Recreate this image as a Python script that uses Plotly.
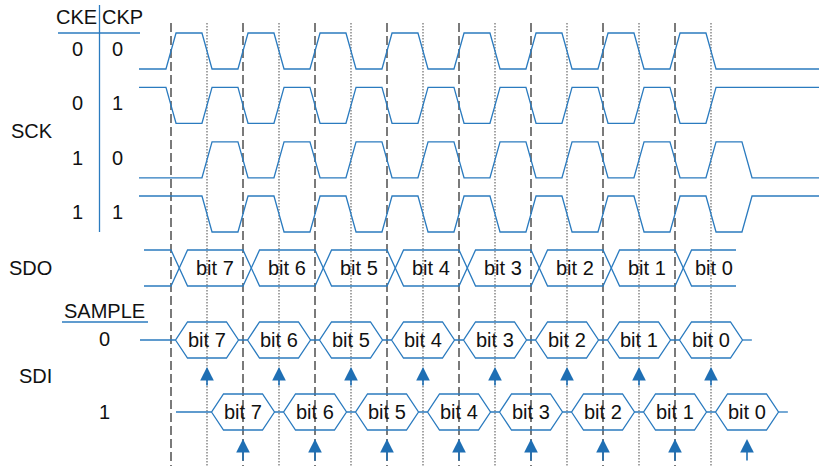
import plotly.graph_objects as go

# ---------------- data ----------------
bits = ["bit 7", "bit 6", "bit 5", "bit 4", "bit 3", "bit 2", "bit 1", "bit 0"]
cke_values = [0, 0, 1, 1]
ckp_values = [0, 1, 0, 1]
sample_modes = [0, 1]
n_cycles = len(bits)
cycle_starts = [k for k in range(n_cycles)]          # dashed lines (SCK periods)
mid_cycles = [k + 0.5 for k in range(n_cycles)]      # dotted lines

# ---------------- style / layout ----------------
W, H = 819, 466
PX0, PPER = 171.0, 72.0            # pixel of t=0, pixels per cycle
T0, T1 = (0 - PX0) / PPER, (W - PX0) / PPER
BLUE = "#2b7bbf"
ARROW = "#1f6fb4"
GRAY = "#7a7a7a"
DOT = "#7f7f7f"
FONT = "Liberation Sans, Arial, Helvetica, sans-serif"
EDGE = 0.14          # SCK transition width (cycles)
XW = 0.23            # SDO crossing width
HW, SL, HH = 0.4375, 0.167, 18   # SDI hexagon half width, slant, half height
AMP = 36

clk_top = [33, 87.3, 141.8, 196]
sdo_top, sdo_bot = 250, 286
sdi_center = [340, 412]
arrow_tip = [367, 439]
arrow_tail = [387, 462]


def px2t(px):
    return (px - PX0) / PPER


fig = go.Figure()

# vertical guide lines
vx, vy = [], []
for t in cycle_starts:
    vx += [t, t, None]
    vy += [23, H, None]
fig.add_trace(go.Scatter(x=vx, y=vy, mode="lines", hoverinfo="skip",
                         line=dict(color=GRAY, width=2, dash="9px,4px")))
vx, vy = [], []
for t in mid_cycles:
    vx += [t, t, None]
    vy += [23, H, None]
fig.add_trace(go.Scatter(x=vx, y=vy, mode="lines", hoverinfo="skip",
                         line=dict(color=DOT, width=1.4, dash="1.5px,1.5px")))

# SCK waveforms
t_start, t_end = px2t(139), T1 + 0.05
for i, (cke, ckp) in enumerate(zip(cke_values, ckp_values)):
    top = clk_top[i]
    lv = {1: top, 0: top + AMP}
    if cke == 0:
        edges = [e for k in cycle_starts for e in (k, k + 0.5)]
    else:
        edges = [e for k in cycle_starts for e in (k + 0.5, k + 1)]
    level = ckp
    xs, ys = [t_start], [lv[level]]
    for e in edges:
        xs += [e - EDGE / 2]
        ys += [lv[level]]
        level = 1 - level
        xs += [e + EDGE / 2]
        ys += [lv[level]]
    xs.append(t_end)
    ys.append(lv[level])
    fig.add_trace(go.Scatter(x=xs, y=ys, mode="lines", hoverinfo="skip",
                             line=dict(color=BLUE, width=1.3)))

# SDO bus
sdo_start, sdo_end = px2t(144), px2t(736)
for first in (sdo_top, sdo_bot):
    other = sdo_bot if first == sdo_top else sdo_top
    xs, ys = [sdo_start], [first]
    cur, nxt = first, other
    for k in cycle_starts:
        xs += [k, k + XW]
        ys += [cur, nxt]
        cur, nxt = nxt, cur
    xs.append(sdo_end)
    ys.append(cur)
    fig.add_trace(go.Scatter(x=xs, y=ys, mode="lines", hoverinfo="skip",
                             line=dict(color=BLUE, width=1.3)))
sdo_ann = []
for k, b in enumerate(bits):
    right = k + 1 if k < n_cycles - 1 else sdo_end
    sdo_ann.append(((k + XW + right) / 2, (sdo_top + sdo_bot) / 2, b))

# SDI hexagon rows
sdi_ann = []
for m in sample_modes:
    yc = sdi_center[m]
    centers = [k + 0.5 + 0.5 * m for k in cycle_starts]
    lead = px2t(140) if m == 0 else px2t(176)
    xs, ys = [lead], [yc]
    for j, c in enumerate(centers):
        xs += [c - HW, c - HW + SL, c + HW - SL, c + HW, c + HW - SL, c - HW + SL, c - HW, None, c + HW]
        ys += [yc, yc - HH, yc - HH, yc, yc + HH, yc + HH, yc, None, yc]
        sdi_ann.append((c, yc, bits[j]))
    xs.append(centers[-1] + HW + 0.13)
    ys.append(yc)
    fig.add_trace(go.Scatter(x=xs, y=ys, mode="lines", hoverinfo="skip",
                             line=dict(color=BLUE, width=1.3)))

annotations = []
for (x, y, b) in sdo_ann + sdi_ann:
    annotations.append(dict(x=x, y=y, xref="x", yref="y", text=b, showarrow=False,
                            xanchor="center", yanchor="middle",
                            font=dict(family=FONT, size=20, color="#111")))

# sample arrows
for m in sample_modes:
    for k in cycle_starts:
        t = k + 0.5 + 0.5 * m
        annotations.append(dict(x=t, y=arrow_tip[m], ax=t, ay=arrow_tail[m],
                                xref="x", yref="y", axref="x", ayref="y", text="",
                                showarrow=True, arrowhead=2, arrowsize=1.7,
                                arrowwidth=1.6, arrowcolor=ARROW))

# left-side labels (pixel placement)
def lab(px, py, text):
    annotations.append(dict(x=px / W, y=1 - py / H, xref="paper", yref="paper",
                            xanchor="center", yanchor="middle",
                            text=text, showarrow=False,
                            font=dict(family=FONT, size=20, color="#111")))

lab(76, 17, "CKE")
lab(122, 17, "CKP")
row_y = [49, 103, 158, 212]
for i in range(4):
    lab(77, row_y[i], str(cke_values[i]))
    lab(117, row_y[i], str(ckp_values[i]))
lab(32, 131, "SCK")
lab(30, 268, "SDO")
lab(105, 311, "SAMPLE")
lab(105, 339, str(sample_modes[0]))
lab(35, 376, "SDI")
lab(105, 412, str(sample_modes[1]))

shapes = [
    dict(type="line", xref="paper", yref="paper", x0=58 / W, x1=140 / W,
         y0=1 - 33 / H, y1=1 - 33 / H, line=dict(color=BLUE, width=1.3)),
    dict(type="line", xref="paper", yref="paper", x0=99.5 / W, x1=99.5 / W,
         y0=1 - 5 / H, y1=1 - 232 / H, line=dict(color=BLUE, width=1.3)),
    dict(type="line", xref="paper", yref="paper", x0=62 / W, x1=148 / W,
         y0=1 - 322 / H, y1=1 - 322 / H, line=dict(color=BLUE, width=1.3)),
]

fig.update_layout(
    width=W, height=H, margin=dict(l=0, r=0, t=0, b=0),
    paper_bgcolor="white", plot_bgcolor="white", showlegend=False,
    xaxis=dict(range=[T0, T1], visible=False, fixedrange=True),
    yaxis=dict(range=[H, 0], visible=False, fixedrange=True),
    annotations=annotations, shapes=shapes,
)
fig.write_html("out.html", config={"displayModeBar": False},
               post_script="document.body.style.margin='0px';document.body.style.overflow='hidden';")
